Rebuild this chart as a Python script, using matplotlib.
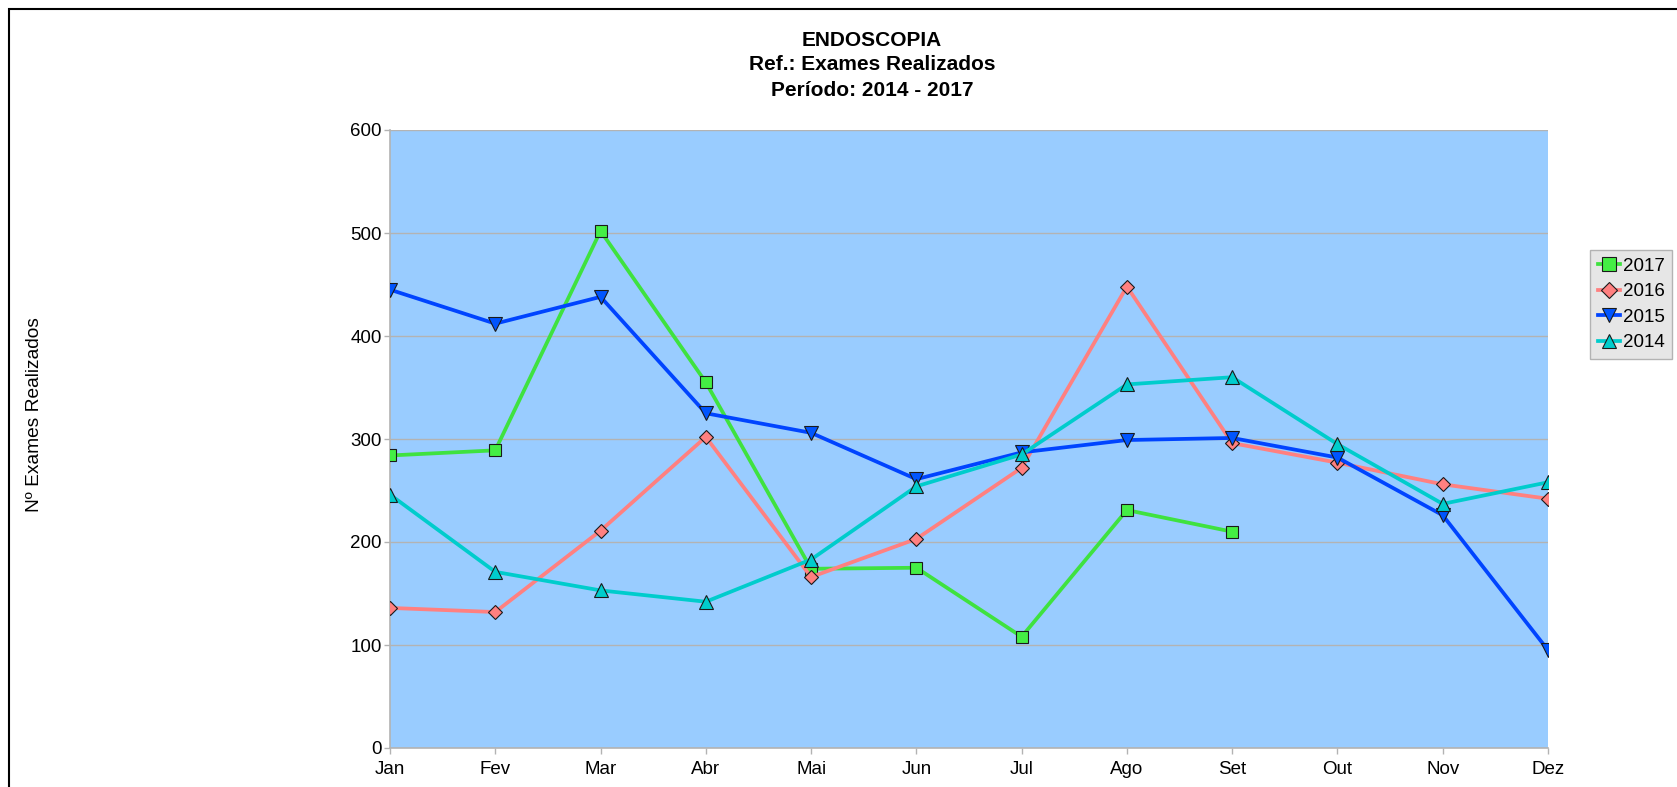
import matplotlib
matplotlib.use('Agg')
import matplotlib.pyplot as plt
from matplotlib.patches import Rectangle

plt.rcParams['font.family'] = ['Liberation Sans', 'DejaVu Sans']

meses = ['Jan', 'Fev', 'Mar', 'Abr', 'Mai', 'Jun', 'Jul', 'Ago', 'Set', 'Out', 'Nov', 'Dez']

ano_2017 = [284, 289, 502, 355, 174, 175, 108, 231, 210]
ano_2016 = [136, 132, 211, 302, 166, 203, 272, 448, 296, 277, 256, 242]
ano_2015 = [445, 412, 438, 325, 306, 261, 287, 299, 301, 282, 226, 95]
ano_2014 = [246, 171, 153, 142, 183, 254, 285, 353, 360, 295, 237, 258]

# (rotulo, valores, cor da linha, cor do marcador, marcador)
series = [
    ('2017', ano_2017, '#3FE23F', '#44EE44', 's'),
    ('2016', ano_2016, '#FF8080', '#FF8080', 'D'),
    ('2015', ano_2015, '#0044FF', '#0055FF', 'v'),
    ('2014', ano_2014, '#00CCCC', '#00CCCC', '^'),
]

fig = plt.figure(figsize=(16.77, 7.87), dpi=100)
ax = fig.add_axes([390 / 1677, 1 - 748 / 787, (1548 - 390) / 1677, (748 - 130) / 787])
ax.set_facecolor('#99CCFF')

tam = {'s': 9, 'D': 7, 'v': 9.5, '^': 9.5}
for rotulo, vals, cor, cor_m, mk in series:
    ax.plot(range(len(vals)), vals, color=cor, lw=2.7, marker=mk, ms=tam[mk],
            mfc=cor_m, mec='#1a1a1a', mew=0.8, label=rotulo, zorder=3)

ax.set_xlim(0, 11)
ax.set_ylim(0, 600)
ax.set_xticks(range(12))
ax.set_xticklabels(meses)
ax.set_yticks(range(0, 601, 100))
ax.yaxis.grid(True, color='#B3B3B3', lw=1)
ax.set_axisbelow(True)
for lado in ['top', 'right']:
    ax.spines[lado].set_visible(False)
for lado in ['left', 'bottom']:
    ax.spines[lado].set_color('#B3B3B3')
    ax.spines[lado].set_linewidth(1.2)
ax.tick_params(axis='both', colors='#B3B3B3', length=4, width=1, labelsize=13.5,
               labelcolor='black', pad=2)
ax.tick_params(axis='x', pad=5)

fig.text(872 / 1677, 1 - 40 / 787, 'ENDOSCOPIA', ha='center', va='center',
         fontsize=15, fontweight='bold')
fig.text(872 / 1677, 1 - 65 / 787, 'Ref.: Exames Realizados', ha='center', va='center',
         fontsize=15, fontweight='bold')
fig.text(872 / 1677, 1 - 91 / 787, 'Período: 2014 - 2017', ha='center', va='center',
         fontsize=15, fontweight='bold')

fig.text(35 / 1677, 1 - 415 / 787, 'Nº Exames Realizados', rotation=90,
         ha='center', va='center', fontsize=13.8)

# moldura do grafico
fig.patches.append(Rectangle((9 / 1677, -0.01), 1.1, 1 - 9 / 787 + 0.01,
                             transform=fig.transFigure, fill=False,
                             edgecolor='black', lw=1.5))

leg = ax.legend(loc='upper left', bbox_to_anchor=(1590 / 1677, 1 - 250 / 787),
                bbox_transform=fig.transFigure, frameon=True, fontsize=13.5,
                handlelength=1.2, handletextpad=0.15, labelspacing=0.45,
                borderpad=0.4, borderaxespad=0, fancybox=False, markerscale=1.1)
leg.get_frame().set_facecolor('#E6E6E6')
leg.get_frame().set_edgecolor('#B3B3B3')
leg.get_frame().set_alpha(1)

fig.savefig('out.png', dpi=100)
